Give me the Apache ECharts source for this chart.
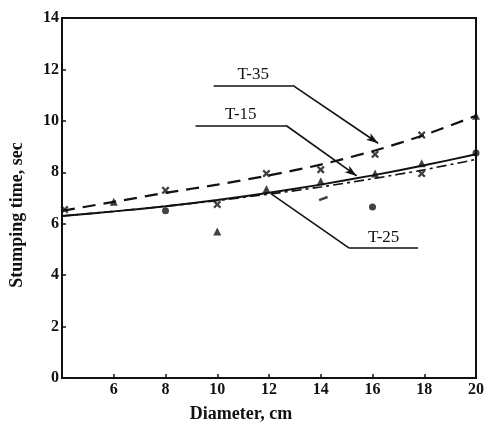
<!DOCTYPE html>
<html>
<head>
<meta charset="utf-8">
<script src="https://cdn.jsdelivr.net/npm/echarts@6/dist/echarts.min.js"></script>
<style>
  html, body { margin: 0; padding: 0; background: #fff; }
  #chart { width: 487px; height: 428px; }
</style>
</head>
<body>
<div id="chart"></div>
<script>
// fitted curves, read at every 2 cm
const diameters = [4, 6, 8, 10, 12, 14, 16, 18, 20]
const t35Fit = [6.5, 6.85, 7.2, 7.52, 7.88, 8.3, 8.82, 9.45, 10.2]
const t15Fit = [6.3, 6.48, 6.68, 6.92, 7.2, 7.52, 7.88, 8.27, 8.7]
const t25Fit = [6.3, 6.48, 6.68, 6.9, 7.15, 7.43, 7.75, 8.1, 8.5]

// measured points [diameter, time]
const t35Points = [[4.1, 6.55], [8.0, 7.3], [10.0, 6.75], [11.9, 7.95], [14.0, 8.1], [16.1, 8.7], [17.9, 9.45], [17.9, 7.95]]
const t15Points = [[6.0, 6.85], [10.0, 5.7], [11.9, 7.35], [14.0, 7.65], [16.1, 7.95], [17.9, 8.35], [20.0, 10.2]]
const t25Points = [[8.0, 6.5], [16.0, 6.65], [20.0, 8.75]]
const strayMarks = [[14.1, 6.98]]

const seriesNames = ['T-35', 'T-15', 'T-25']
const xTicks = [4, 6, 8, 10, 12, 14, 16, 18, 20]
const yTicks = [0, 2, 4, 6, 8, 10, 12, 14]

const serif = 'Liberation Serif'
const ink = '#111'
const crossPath = 'path://M0,2L2,0L5,3L8,0L10,2L7,5L10,8L8,10L5,7L2,10L0,8L3,5Z'

function pair(xs, ys) {
  return xs.map((x, i) => [x, ys[i]])
}

// leader line: underline with text above, then a pointer to the curve
function leader(name, x0, x1, y, tx, ty, arrow) {
  const lbl = {
    show: true,
    formatter: name,
    position: 'insideMiddleTop',
    distance: 2,
    color: ink,
    fontFamily: serif,
    fontSize: 17,
  }
  return [
    [{ coord: [x0, y], label: lbl }, { coord: [x1, y] }],
    arrow
      ? [{ coord: [x1, y] }, { coord: [tx, ty], symbol: 'arrow', symbolSize: [6, 12] }]
      : [{ coord: [x0, y] }, { coord: [tx, ty] }],
  ]
}

const markStyle = { color: ink, width: 1.6, type: 'solid' }

const chart = echarts.init(document.getElementById('chart'))
chart.setOption({
  animation: false,
  backgroundColor: '#fff',
  grid: { left: 60, right: 11, top: 18, bottom: 47, show: true, borderColor: ink, borderWidth: 2 },
  xAxis: {
    type: 'value',
    min: xTicks[0],
    max: xTicks[xTicks.length - 1],
    interval: 2,
    name: 'Diameter, cm',
    nameLocation: 'middle',
    nameGap: 27,
    nameTextStyle: { color: ink, fontFamily: serif, fontWeight: 'bold', fontSize: 18, padding: [0, 56, 0, 0] },
    axisLine: { lineStyle: { color: ink, width: 2 } },
    axisTick: { inside: true, length: 4, lineStyle: { color: ink, width: 1.5 } },
    axisLabel: { showMinLabel: false, color: ink, fontFamily: serif, fontWeight: 'bold', fontSize: 16, margin: 4 },
    splitLine: { show: false },
  },
  yAxis: {
    type: 'value',
    min: yTicks[0],
    max: yTicks[yTicks.length - 1],
    interval: 2,
    name: 'Stumping time, sec',
    nameLocation: 'middle',
    nameGap: 36,
    nameTextStyle: { color: ink, fontFamily: serif, fontWeight: 'bold', fontSize: 18, padding: [0, 34, 0, 0] },
    axisLine: { lineStyle: { color: ink, width: 2 } },
    axisTick: { inside: true, length: 4, lineStyle: { color: ink, width: 1.5 } },
    axisLabel: { color: ink, fontFamily: serif, fontWeight: 'bold', fontSize: 16, margin: 3 },
    splitLine: { show: false },
  },
  series: [
    {
      name: seriesNames[0],
      type: 'line',
      smooth: 0.3,
      symbol: 'none',
      data: pair(diameters, t35Fit),
      lineStyle: { color: ink, width: 2.2, type: [13, 8] },
      markLine: {
        silent: true,
        symbol: 'none',
        lineStyle: markStyle,
        label: { show: false },
        data: leader(seriesNames[0], 9.86, 12.92, 11.38, 16.22, 9.13, true),
      },
    },
    {
      name: seriesNames[1],
      type: 'line',
      smooth: 0.3,
      symbol: 'none',
      data: pair(diameters, t15Fit),
      lineStyle: { color: ink, width: 2 },
      markLine: {
        silent: true,
        symbol: 'none',
        lineStyle: markStyle,
        label: { show: false },
        data: leader(seriesNames[1], 9.16, 12.66, 9.82, 15.39, 7.86, true),
      },
    },
    {
      name: seriesNames[2],
      type: 'line',
      smooth: 0.3,
      symbol: 'none',
      data: pair(diameters, t25Fit),
      lineStyle: { color: ink, width: 1.6, type: [10, 4, 3, 4] },
      markLine: {
        silent: true,
        symbol: 'none',
        lineStyle: markStyle,
        label: { show: false },
        data: leader(seriesNames[2], 15.1, 17.76, 5.05, 12.1, 7.15, false),
      },
    },
    {
      type: 'scatter',
      symbol: crossPath,
      symbolSize: 8,
      itemStyle: { color: ink },
      data: t35Points,
    },
    {
      type: 'scatter',
      symbol: 'triangle',
      symbolSize: 8,
      itemStyle: { color: ink },
      data: t15Points,
    },
    {
      type: 'scatter',
      symbol: 'circle',
      symbolSize: 7,
      itemStyle: { color: ink },
      data: t25Points,
    },
    {
      type: 'scatter',
      symbol: 'rect',
      symbolSize: [9, 2.5],
      symbolRotate: 20,
      itemStyle: { color: ink },
      data: strayMarks,
    },
  ],
})
</script>
</body>
</html>
